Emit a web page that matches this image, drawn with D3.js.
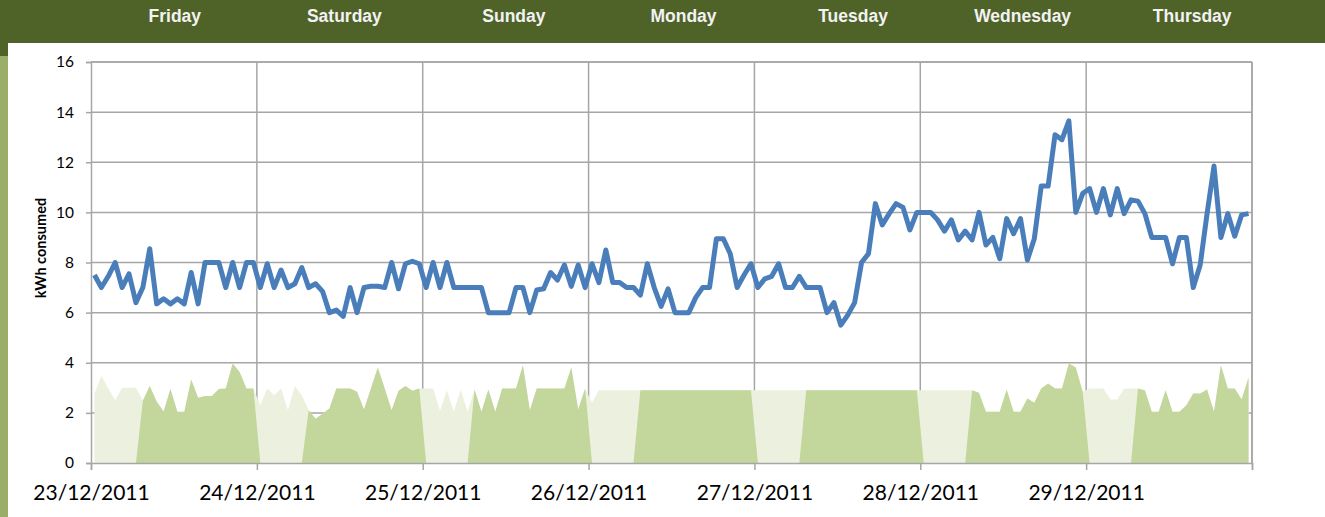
<!DOCTYPE html>
<html>
<head>
<meta charset="utf-8">
<script src="https://cdn.jsdelivr.net/npm/d3@7"></script>
<style>
  body { margin: 0; background: #fff; overflow: hidden; }
  svg { display: block; }
</style>
</head>
<body>
<div class="vis-chart"></div>
<script>
// header day names and x tick labels
const dayNames = ["Friday", "Saturday", "Sunday", "Monday", "Tuesday", "Wednesday", "Thursday"];
const dateLabels = ["23/12/2011", "24/12/2011", "25/12/2011", "26/12/2011", "27/12/2011", "28/12/2011", "29/12/2011"];
const yTicks = [0, 2, 4, 6, 8, 10, 12, 14, 16];

// hourly kWh consumed, 23/12 00:00 -> 29/12 23:00
const consumption = [
  7.5, 7.0, 7.45, 8.0, 7.0, 7.55, 6.4, 7.0, 8.55, 6.35, 6.55, 6.35, 6.55, 6.35, 7.6, 6.35, 8.0, 8.0, 8.0, 7.0, 8.0, 7.0, 8.0, 8.0,
  7.0, 7.95, 7.0, 7.7, 7.0, 7.15, 7.8, 7.0, 7.15, 6.85, 6.0, 6.1, 5.85, 7.0, 6.0, 7.0, 7.05, 7.05, 7.0, 8.0, 6.95, 7.95, 8.05, 7.95,
  7.0, 8.0, 7.0, 8.0, 7.0, 7.0, 7.0, 7.0, 7.0, 6.0, 6.0, 6.0, 6.0, 7.0, 7.0, 6.0, 6.9, 6.95, 7.6, 7.3, 7.9, 7.05, 7.9, 7.0,
  7.95, 7.2, 8.5, 7.2, 7.2, 7.0, 7.0, 6.7, 7.95, 7.0, 6.25, 6.95, 6.0, 6.0, 6.0, 6.6, 7.0, 7.0, 8.95, 8.95, 8.35, 7.0, 7.5, 7.95,
  7.0, 7.35, 7.45, 7.95, 7.0, 7.0, 7.45, 7.0, 7.0, 7.0, 6.0, 6.4, 5.5, 5.9, 6.4, 8.0, 8.35, 10.35, 9.5, 9.95, 10.35, 10.2, 9.3, 10.0,
  10.0, 10.0, 9.7, 9.25, 9.7, 8.9, 9.25, 8.9, 10.0, 8.7, 9.0, 8.15, 9.75, 9.15, 9.75, 8.1, 8.95, 11.05, 11.05, 13.1, 12.9, 13.65, 10.0, 10.75,
  10.95, 10.0, 10.95, 9.9, 10.95, 9.95, 10.5, 10.45, 9.95, 9.0, 9.0, 9.0, 7.95, 9.0, 9.0, 7.0, 7.9, 9.95, 11.85, 9.0, 9.95, 9.05, 9.9, 9.95
];

// hourly baseline (the green areas)
const baseline = [
  2.77, 3.47, 2.97, 2.5, 3.0, 3.0, 3.0, 2.48, 3.07, 2.45, 2.05, 2.95, 2.04, 2.04, 3.33, 2.6, 2.67, 2.67, 2.95, 2.97, 3.97, 3.63, 2.97, 2.97,
  2.3, 2.97, 2.7, 2.97, 2.1, 3.07, 2.7, 2.1, 1.77, 1.97, 2.17, 2.97, 2.97, 2.97, 2.84, 2.13, 2.97, 3.81, 2.97, 2.1, 2.88, 3.07, 2.88, 2.97,
  2.97, 2.97, 2.08, 2.9, 2.04, 2.93, 2.04, 2.93, 2.04, 2.93, 2.04, 2.97, 2.97, 2.97, 3.9, 2.1, 2.97, 2.97, 2.97, 2.97, 2.97, 3.81, 2.13, 2.97,
  2.4, 2.9, 2.9, 2.9, 2.9, 2.9, 2.9, 2.9, 2.9, 2.9, 2.9, 2.9, 2.9, 2.9, 2.9, 2.9, 2.9, 2.9, 2.9, 2.9, 2.9, 2.9, 2.9, 2.9,
  2.9, 2.9, 2.9, 2.9, 2.9, 2.9, 2.9, 2.9, 2.9, 2.9, 2.9, 2.9, 2.9, 2.9, 2.9, 2.9, 2.9, 2.9, 2.9, 2.9, 2.9, 2.9, 2.9, 2.9,
  2.9, 2.9, 2.9, 2.9, 2.9, 2.9, 2.9, 2.9, 2.8, 2.04, 2.04, 2.04, 2.93, 2.04, 2.04, 2.57, 2.4, 2.97, 3.17, 2.97, 2.97, 3.97, 3.81, 2.84,
  2.97, 2.97, 2.97, 2.53, 2.53, 2.97, 2.97, 2.97, 2.9, 2.04, 2.04, 2.9, 2.04, 2.04, 2.3, 2.77, 2.77, 2.93, 2.04, 3.9, 2.97, 2.97, 2.53, 3.41
];

// hours 0..6 are off-peak (light green)
const offPeakEnd = 7;

const W = 1325, H = 517;
const margin = {top: 62, right: 73, bottom: 54, left: 91};
const width = W - margin.left - margin.right;
const height = H - margin.top - margin.bottom;

const start = new Date(2011, 11, 23);
const end = new Date(2011, 11, 30);

const data = consumption.map((v, i) => ({
  t: d3.timeMinute.offset(start, i * 60 + 30),
  hour: i % 24,
  kwh: v,
  base: baseline[i]
}));

const svg = d3.select(".vis-chart").append("svg")
  .attr("width", W)
  .attr("height", H);

// background slide bits
svg.append("rect").attr("x", 0).attr("y", 0).attr("width", 8).attr("height", H).attr("fill", "#9bae69");
svg.append("rect").attr("x", 0).attr("y", 0).attr("width", 8).attr("height", 56).attr("fill", "#4f6228");
svg.append("rect").attr("x", 0).attr("y", 0).attr("width", W).attr("height", 43).attr("fill", "#4f6228");

// header day names
const band = d3.scaleBand().domain(dayNames).range([90, 1277]);
svg.append("g").selectAll("text")
  .data(dayNames)
  .join("text")
  .attr("x", d => band(d) + band.bandwidth() / 2)
  .attr("y", 22)
  .attr("text-anchor", "middle")
  .attr("font-family", "'Liberation Sans', Arial, sans-serif")
  .attr("font-weight", "bold")
  .attr("font-size", 17.5)
  .attr("fill", "#f2f2f2")
  .text(d => d);

const g = svg.append("g")
  .attr("transform", "translate(" + margin.left + "," + margin.top + ")");

const x = d3.scaleTime().domain([start, end]).range([0, width]);
const y = d3.scaleLinear().domain([0, 16]).range([height, 0]);

const gridColor = "#a6a6a6";
const days = d3.timeDay.range(start, d3.timeDay.offset(end, 1));

// gridlines
g.append("g").selectAll("line.h")
  .data(yTicks.slice(1))
  .join("line")
  .attr("x1", 0).attr("x2", width)
  .attr("y1", d => y(d)).attr("y2", d => y(d))
  .attr("stroke", gridColor).attr("stroke-width", 1.5);
g.append("g").selectAll("line.v")
  .data(days.slice(1))
  .join("line")
  .attr("x1", d => x(d)).attr("x2", d => x(d))
  .attr("y1", 0).attr("y2", height)
  .attr("stroke", gridColor).attr("stroke-width", 1.5);

// areas: total baseline in light green, peak hours over it in mid green
const area = d3.area()
  .x(d => x(d.t))
  .y0(y(0))
  .y1(d => y(d.v));

g.append("path")
  .datum(data.map(d => ({t: d.t, v: d.base})))
  .attr("fill", "#ebf1de")
  .attr("d", area);

g.append("path")
  .datum(data.map(d => ({t: d.t, v: d.hour < offPeakEnd ? 0 : d.base})))
  .attr("fill", "#c3d69b")
  .attr("d", area);

// axes
const yAxis = g.append("g")
  .call(d3.axisLeft(y).tickValues(yTicks).tickSize(5).tickPadding(12));
yAxis.select(".domain").attr("stroke", gridColor).attr("stroke-width", 1.5);
yAxis.selectAll(".tick line").attr("stroke", gridColor).attr("stroke-width", 1.5);
yAxis.selectAll("text")
  .attr("font-family", "Lato, 'Open Sans', sans-serif")
  .attr("font-size", 15.5)
  .attr("fill", "#000");

const xAxis = g.append("g")
  .attr("transform", "translate(0," + height + ")")
  .call(d3.axisBottom(x).tickValues(days).tickSize(7).tickPadding(15)
    .tickFormat((d, i) => dateLabels[i] || ""));
xAxis.select(".domain").attr("stroke", gridColor).attr("stroke-width", 1.5);
xAxis.selectAll(".tick line").attr("stroke", gridColor).attr("stroke-width", 1.5);
xAxis.selectAll("text")
  .attr("font-family", "Lato, 'Open Sans', sans-serif")
  .attr("font-size", 21)
  .attr("fill", "#000");

// frame top and right
g.append("line").attr("x1", 0).attr("x2", width).attr("y1", 0).attr("y2", 0)
  .attr("stroke", gridColor).attr("stroke-width", 1.5);
g.append("line").attr("x1", width).attr("x2", width).attr("y1", 0).attr("y2", height)
  .attr("stroke", gridColor).attr("stroke-width", 1.5);

// consumption line
const line = d3.line()
  .x(d => x(d.t))
  .y(d => y(d.kwh));

g.append("path")
  .datum(data)
  .attr("fill", "none")
  .attr("stroke", "#4a7ebb")
  .attr("stroke-width", 5)
  .attr("stroke-linejoin", "round")
  .attr("d", line);

// y title
svg.append("text")
  .attr("transform", "translate(46,248) rotate(-90)")
  .attr("text-anchor", "middle")
  .attr("font-family", "Lato, 'Open Sans', sans-serif")
  .attr("font-weight", "bold")
  .attr("font-size", 14.5)
  .attr("fill", "#000")
  .text("kWh consumed");
</script>
</body>
</html>
